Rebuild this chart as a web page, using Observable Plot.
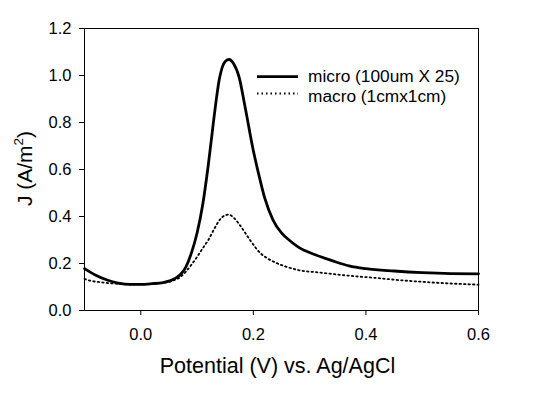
<!DOCTYPE html>
<html><head><meta charset="utf-8">
<script src="https://cdn.jsdelivr.net/npm/d3@7"></script>
<script src="https://cdn.jsdelivr.net/npm/@observablehq/plot@0.6"></script>
<style>body{margin:0;background:#fff}</style>
</head><body><div id="chart"></div>
<script>
const potentialMicro = [-0.1,-0.08,-0.06,-0.04,-0.02,0.0,0.02,0.04,0.06,0.07,0.08,0.09,0.10,0.11,0.12,0.13,0.14,0.15,0.157,0.165,0.175,0.185,0.20,0.21,0.22,0.235,0.25,0.265,0.28,0.31,0.34,0.37,0.40,0.45,0.50,0.55,0.60];
const jMicro = [0.178,0.150,0.130,0.117,0.111,0.111,0.114,0.119,0.135,0.152,0.185,0.245,0.33,0.45,0.62,0.82,0.99,1.06,1.068,1.05,0.99,0.87,0.68,0.575,0.48,0.385,0.33,0.297,0.27,0.237,0.212,0.19,0.178,0.168,0.161,0.157,0.156];
const potentialMacro = [-0.1,-0.09,-0.07,-0.05,-0.03,-0.01,0.01,0.03,0.05,0.06,0.07,0.08,0.09,0.10,0.11,0.12,0.13,0.14,0.15,0.157,0.165,0.177,0.195,0.212,0.225,0.24,0.26,0.28,0.32,0.37,0.42,0.46,0.50,0.55,0.60];
const jMacro = [0.134,0.127,0.120,0.115,0.112,0.111,0.112,0.116,0.122,0.13,0.142,0.165,0.195,0.228,0.265,0.30,0.345,0.385,0.405,0.408,0.395,0.36,0.297,0.245,0.222,0.203,0.185,0.172,0.161,0.148,0.138,0.129,0.122,0.115,0.110];
const xTicks = [0, 0.2, 0.4, 0.6];
const yTicks = [0, 0.2, 0.4, 0.6, 0.8, 1.0, 1.2];
const seriesNames = ["micro (100um X 25)", "macro (1cmx1cm)"];
const xTitle = "Potential (V) vs. Ag/AgCl";
const yTitleMain = "J (A/m";
const yTitleSup = "2";
const yTitleEnd = ")";

const micro = potentialMicro.map((x, i) => ({x, y: jMicro[i]}));
const macro = potentialMacro.map((x, i) => ({x, y: jMacro[i]}));
const FONT = "'Liberation Sans', Arial, sans-serif";

const chart = Plot.plot({
  width: 533, height: 405,
  marginLeft: 84, marginRight: 55, marginTop: 28, marginBottom: 95,
  style: {background: "white", fontFamily: FONT, fontSize: "16px", color: "black"},
  x: {domain: [-0.1, 0.6], label: null},
  y: {domain: [0, 1.2], label: null},
  marks: [
    Plot.line(macro, {x: "x", y: "y", stroke: "black", strokeWidth: 1.8, strokeDasharray: "1.5,3", curve: "monotone-x"}),
    Plot.line(micro, {x: "x", y: "y", stroke: "black", strokeWidth: 2.8, curve: "monotone-x"}),
    Plot.frame({stroke: "black", strokeWidth: 1}),
    Plot.axisX({ticks: xTicks, tickFormat: d3.format(".1f"), tickSize: 5, tickPadding: 13, label: null, fontSize: 16.5, stroke: "black", fill: "black"}),
    Plot.axisY({ticks: yTicks, tickFormat: d3.format(".1f"), tickSize: 5, tickPadding: 8, label: null, fontSize: 16.5, stroke: "black", fill: "black"})
  ]
});
document.getElementById("chart").append(chart);

const svg = d3.select(chart);
svg.append("text").attr("x", 277.5).attr("y", 373).attr("text-anchor", "middle")
  .attr("font-family", FONT).attr("font-size", 21.5).attr("fill", "black").text(xTitle);
const yt = svg.append("text").attr("transform", "translate(32,168.5) rotate(-90)")
  .attr("text-anchor", "middle").attr("font-family", FONT).attr("font-size", 21).attr("fill", "black");
yt.append("tspan").text(yTitleMain);
yt.append("tspan").attr("font-size", 13.5).attr("dy", -9).text(yTitleSup);
yt.append("tspan").attr("dy", 9).text(yTitleEnd);

const leg = [
  {y: 76.7, ty: 81.5, width: 2.8, dash: null},
  {y: 93.5, ty: 101.5, width: 1.8, dash: "1.5,3"}
];
seriesNames.forEach((name, i) => {
  const l = svg.append("line").attr("x1", 257).attr("x2", 298).attr("y1", leg[i].y).attr("y2", leg[i].y)
    .attr("stroke", "black").attr("stroke-width", leg[i].width);
  if (leg[i].dash) l.attr("stroke-dasharray", leg[i].dash);
  svg.append("text").attr("x", 308).attr("y", leg[i].ty).attr("text-anchor", "start")
    .attr("font-family", FONT).attr("font-size", 17.3)
    .attr("fill", "black").text(name);
});
</script></body></html>
